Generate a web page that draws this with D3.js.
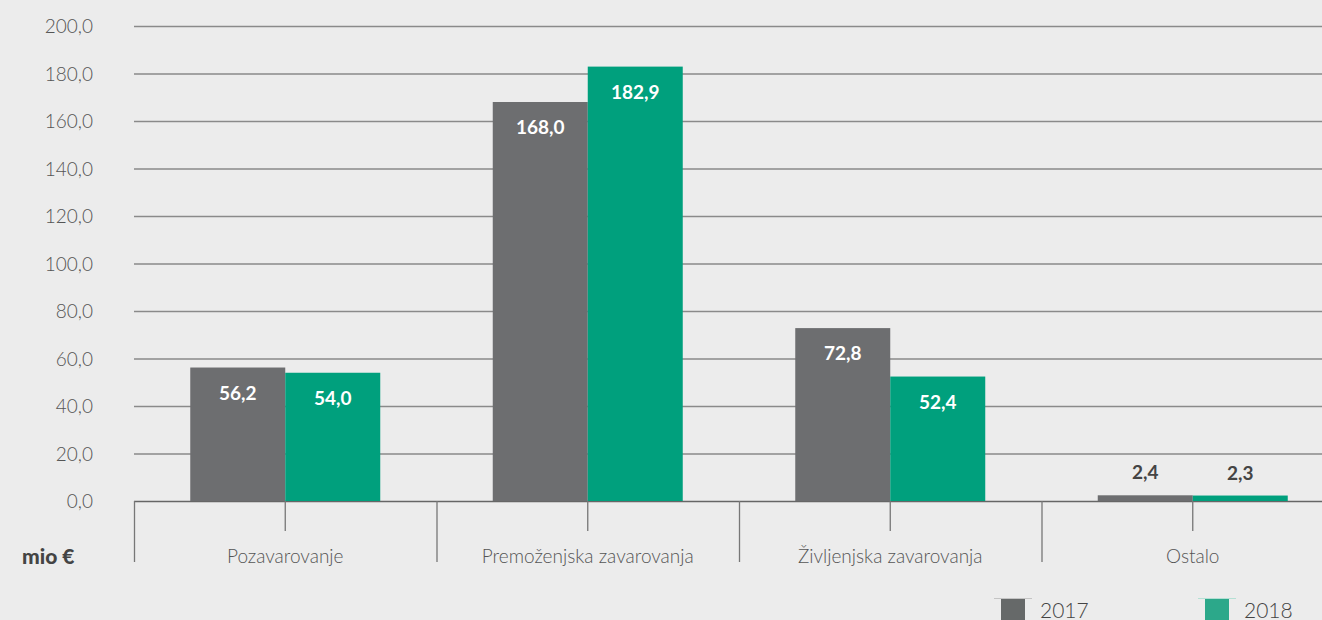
<!DOCTYPE html>
<html>
<head>
<meta charset="utf-8">
<script src="https://cdn.jsdelivr.net/npm/d3@7"></script>
<style>
  body { margin: 0; background: #ececec; }
  svg { display: block; font-family: Lato, "Open Sans", sans-serif; }
</style>
</head>
<body>
<svg id="chart" width="1322" height="620"></svg>
<script>
// data
var categories = ["Pozavarovanje", "Premoženjska zavarovanja", "Življenjska zavarovanja", "Ostalo"];
var seriesNames = ["2017", "2018"];
var values2017 = [56.2, 168.0, 72.8, 2.4];
var values2018 = [54.0, 182.9, 52.4, 2.3];
var yTicks = [0, 20, 40, 60, 80, 100, 120, 140, 160, 180, 200];
var colors = ["#6d6e70", "#00a07d"];

var svg = d3.select("#chart");
var fmt = function(d){ return d3.format(".1f")(d).replace(".", ","); };

// scales
var x = d3.scaleBand()
    .domain(categories)
    .range([134, 1344])
    .paddingInner(0)
    .paddingOuter(0);

var y = d3.scaleLinear()
    .domain([0, 200])
    .range([501, 26]);

var inner = d3.scaleBand()
    .domain(seriesNames)
    .range([0, x.bandwidth()])
    .paddingInner(0);
inner.paddingOuter((x.bandwidth() - 190) / 2 / (190 / 2)); // two bars of ~95px

//gridlines
svg.selectAll("line.grid")
    .data(yTicks)
    .enter().append("line")
    .attr("class", "grid")
    .attr("x1", 134).attr("x2", 1322)
    .attr("y1", function(d){ return y(d) + 0.5; })
    .attr("y2", function(d){ return y(d) + 0.5; })
    .attr("stroke", function(d){ return d == 0 ? "#666" : "#8a8a8a"; })
    .attr("stroke-width", 1.3);

var yAxis = d3.axisLeft(y)
    .tickValues(yTicks)
    .tickSize(0)
    .tickFormat(fmt);

var axisG = svg.append("g")
    .attr("transform", "translate(96,0)")
    .call(yAxis)
    .attr("font-family", "Lato, 'Open Sans', sans-serif")
    .attr("font-size", 19);
axisG.select(".domain").remove();
axisG.selectAll("text")
    .attr("fill", "#555")
    .attr("font-weight", 300)
    .attr("dy", "0.35em");

// bars
var data = categories.map(function(c, i){
    return {cat: c, vals: [values2017[i], values2018[i]]};
});

var groups = svg.selectAll("g.cat")
    .data(data)
    .enter().append("g")
    .attr("class", "cat")
    .attr("transform", function(d){ return "translate(" + x(d.cat) + ",0)"; });

function pairs(d){
    return d.vals.map(function(v, j){ return {v: v, s: seriesNames[j], j: j}; });
}

groups.selectAll("rect")
    .data(pairs)
    .enter().append("rect")
    .attr("x", function(d){ return inner(d.s); })
    .attr("width", inner.bandwidth())
    .attr("y", function(d){ return y(d.v); })
    .attr("height", function(d){ return y(0) - y(d.v); })
    .attr("fill", function(d){ return colors[d.j]; });

groups.selectAll("text.val")
    .data(pairs)
    .enter().append("text")
    .attr("class", "val")
    .attr("x", function(d){ return inner(d.s) + inner.bandwidth() / 2; })
    .attr("y", function(d){ return d.v < 10 ? y(d.v) - 16 : y(d.v) + 32; })
    .attr("text-anchor", "middle")
    .attr("font-size", "19px")
    .attr("font-weight", 700)
    .attr("fill", function(d){ return d.v < 10 ? "#444" : "#fff"; })
    .text(function(d){ return fmt(d.v); });

// category ticks under the axis
svg.selectAll("line.sep")
    .data(categories)
    .enter().append("line")
    .attr("x1", function(d){ return x(d) + 0.5; })
    .attr("x2", function(d){ return x(d) + 0.5; })
    .attr("y1", y(0)).attr("y2", 562)
    .attr("stroke", "#777").attr("stroke-width", 1.3);

svg.selectAll("line.mid")
    .data(categories)
    .enter().append("line")
    .attr("x1", function(d){ return x(d) + x.bandwidth() / 2; })
    .attr("x2", function(d){ return x(d) + x.bandwidth() / 2; })
    .attr("y1", y(0)).attr("y2", 531)
    .attr("stroke", "#777").attr("stroke-width", 1.3);

svg.selectAll("text.cat")
    .data(categories)
    .enter().append("text")
    .attr("class", "cat")
    .attr("x", function(d){ return x(d) + x.bandwidth() / 2; })
    .attr("y", 563)
    .attr("text-anchor", "middle")
    .attr("font-size", "19px")
    .attr("font-weight", 300)
    .attr("fill", "#555")
    .text(function(d){ return d; });

// unit label
svg.append("text")
    .attr("x", 22).attr("y", 564)
    .attr("font-size", "21px")
    .attr("font-weight", 900)
    .attr("fill", "#444")
    .text("mio €");

// legend
var legend = svg.selectAll("g.leg")
    .data(seriesNames)
    .enter().append("g")
    .attr("class", "leg")
    .attr("transform", function(d, i){ return "translate(" + (1001 + i * 204) + ",598)"; });

legend.append("rect")
    .attr("width", 24).attr("height", 24)
    .attr("fill", function(d, i){ return i == 0 ? "#666969" : "#2ca88a"; });

legend.append("line")
    .attr("x1", -7).attr("x2", 31)
    .attr("y1", 0.5).attr("y2", 0.5)
    .attr("stroke", function(d, i){ return i == 0 ? "#c4c4c4" : "#b4e0d4"; });

legend.append("text")
    .attr("x", 39).attr("y", 20)
    .attr("font-size", "21px")
    .attr("font-weight", 300)
    .attr("fill", "#444")
    .text(function(d){ return d; });
</script>
</body>
</html>
